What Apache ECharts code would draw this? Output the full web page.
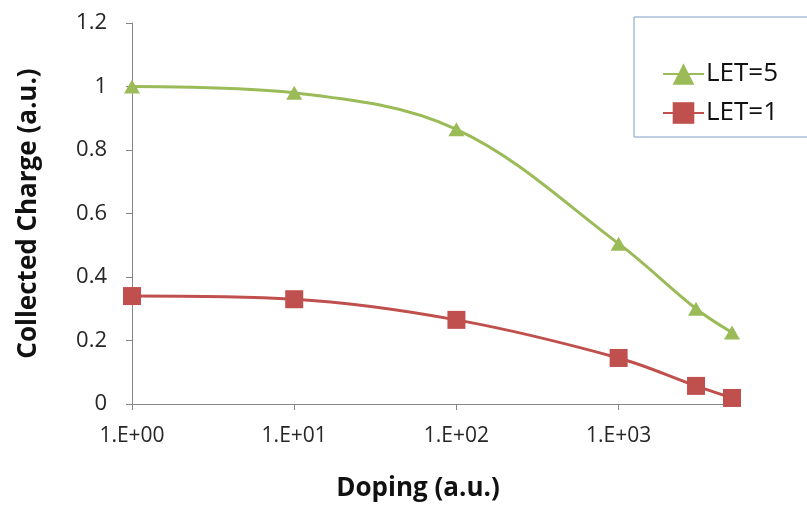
<!DOCTYPE html>
<html>
<head>
<meta charset="utf-8">
<script src="https://cdn.jsdelivr.net/npm/echarts@6/dist/echarts.min.js"></script>
<style>
  html, body { margin: 0; padding: 0; background: #fff; }
  #chart { width: 807px; height: 507px; }
</style>
</head>
<body>
<div id="chart"></div>
<script>
// Doping levels (a.u.) and collected charge for the two LET values
const doping = [1, 10, 100, 1000, 3000, 5000];
const let5 = [1.0, 0.98, 0.865, 0.505, 0.30, 0.225];
const let1 = [0.34, 0.33, 0.265, 0.145, 0.057, 0.019];
const decadeTicks = [1, 10, 100, 1000];

const FONT = '"Open Sans", "Noto Sans", sans-serif';
const GREEN = '#9bbb59';
const RED = '#c0504d';
const AXIS = '#868686';

function pairs(xs, ys) { return xs.map((x, i) => [x, ys[i]]); }
function sciLabel(v) {
  const e = Math.round(Math.log10(v));
  return '1.E+' + (e < 10 ? '0' + e : String(e));
}

const chart = echarts.init(document.getElementById('chart'), null, { renderer: 'canvas' });
chart.setOption({
  backgroundColor: '#ffffff',
  animation: false,
  grid: { left: 132, right: 67, top: 23, bottom: 103, containLabel: false },
  legend: {
    orient: 'vertical',
    left: 634,
    top: 17,
    padding: [44, 30, 11, 28],
    itemWidth: 41,
    itemHeight: 27,
    itemGap: 13,
    borderColor: '#7f9cc4',
    borderWidth: 1,
    textStyle: { fontFamily: FONT, fontSize: 26, color: '#111', padding: [0, 0, 0, -3] },
    data: ['LET=5', 'LET=1']
  },
  xAxis: {
    type: 'log',
    logBase: 10,
    min: 1,
    max: 5600,
    name: 'Doping (a.u.)',
    nameLocation: 'middle',
    nameGap: 72,
    nameTextStyle: { fontFamily: FONT, fontSize: 26, fontWeight: 'bold', color: '#111', padding: [0, 36, 0, 0] },
    axisLine: { show: true, lineStyle: { color: AXIS, width: 1 } },
    axisTick: { show: true, length: 6, lineStyle: { color: AXIS }, customValues: decadeTicks },
    axisLabel: {
      show: true, margin: 22, fontFamily: FONT, fontSize: 21, color: '#262626',
      customValues: decadeTicks, formatter: sciLabel
    },
    splitLine: { show: false },
    minorTick: { show: false }
  },
  yAxis: {
    type: 'value',
    min: 0,
    max: 1.2,
    interval: 0.2,
    name: 'Collected Charge (a.u.)',
    nameLocation: 'middle',
    nameGap: 90,
    nameTextStyle: { fontFamily: FONT, fontSize: 26, fontWeight: 'bold', color: '#111' },
    axisLine: { show: true, lineStyle: { color: AXIS, width: 1 } },
    axisTick: { show: true, length: 6, lineStyle: { color: AXIS } },
    axisLabel: {
      margin: 25, fontFamily: FONT, fontSize: 22, color: '#262626',
      formatter: v => String(Math.round(v * 10) / 10)
    },
    splitLine: { show: false }
  },
  series: [
    {
      name: 'LET=5',
      type: 'line',
      data: pairs(doping, let5),
      smooth: 0.35,
      symbol: 'triangle',
      symbolSize: [16, 14],
      lineStyle: { color: GREEN, width: 3 },
      itemStyle: { color: GREEN },
      z: 3
    },
    {
      name: 'LET=1',
      type: 'line',
      data: pairs(doping, let1),
      smooth: 0.35,
      symbol: 'rect',
      symbolSize: 18,
      lineStyle: { color: RED, width: 3 },
      itemStyle: { color: RED },
      z: 3
    }
  ]
});
</script>
</body>
</html>
